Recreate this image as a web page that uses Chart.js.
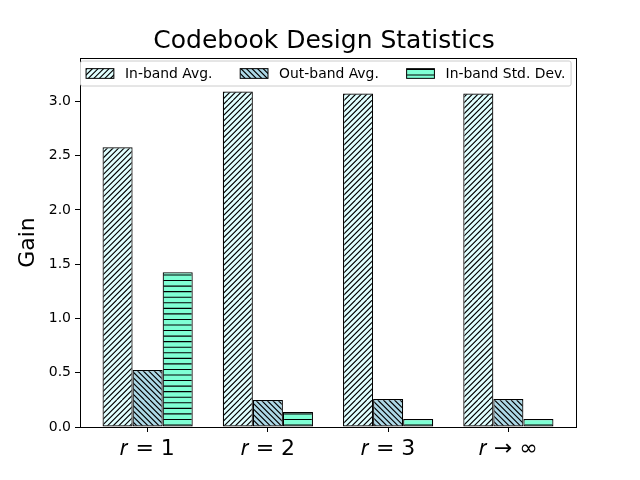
<!DOCTYPE html>
<html>
<head>
<meta charset="utf-8">
<script src="https://cdn.jsdelivr.net/npm/chart.js@4.4.1/dist/chart.umd.min.js"></script>
<style>
  html, body { margin: 0; padding: 0; background: #fff; }
</style>
</head>
<body>
<canvas id="chart" width="640" height="480"></canvas>
<script>
const categories = ['𝑟 = 1', '𝑟 = 2', '𝑟 = 3', '𝑟 → ∞']
const inbandAvg = [2.577, 3.092, 3.073, 3.073]
const outbandAvg = [0.525, 0.248, 0.258, 0.258]
const inbandStd = [1.426, 0.138, 0.074, 0.074]
const seriesNames = ['In-band Avg.', 'Out-band Avg.', 'In-band Std. Dev.']
const yTicks = [0, 0.5, 1, 1.5, 2, 2.5, 3]

const FONT = "'DejaVu Sans', sans-serif"
const canvas = document.getElementById('chart')
const mainCtx = canvas.getContext('2d')

// matplotlib-like hatch fills: '///', '\\\\', '---'
const makeHatch = (bg, kind) => {
    const size = 100, n = 18, step = size / n
    const c = document.createElement('canvas')
    c.width = size
    c.height = size
    const ctx = c.getContext('2d')
    ctx.fillStyle = bg
    ctx.fillRect(0, 0, size, size)
    ctx.strokeStyle = '#000'
    ctx.lineWidth = 1.1
    ctx.beginPath()
    for (let i = -n; i <= 2 * n; i++) {
        const o = i * step
        if (kind === '/') { ctx.moveTo(o, size); ctx.lineTo(o + size, 0) }
        else if (kind === '\\') { ctx.moveTo(o, 0); ctx.lineTo(o + size, size) }
        else if (i >= 0 && i < n) { ctx.moveTo(0, o + step / 2); ctx.lineTo(size, o + step / 2) }
    }
    ctx.stroke()
    return mainCtx.createPattern(c, 'repeat')
}

const colors = ['#e0ffff', '#add8e6', '#7fffd4']
const hatches = ['/', '\\', '-']
const series = [inbandAvg, outbandAvg, inbandStd]

const datasets = series.map((vals, k) => ({
    label: seriesNames[k],
    data: vals.map((y, i) => ({ x: i, y })),
    backgroundColor: makeHatch(colors[k], hatches[k]),
    borderColor: '#000',
    borderWidth: 1.2,
    borderSkipped: false,
    categoryPercentage: 0.75,
    barPercentage: 1
}))

// axes frame + legend box inside the plot (like matplotlib)
const frameAndLegend = {
    id: 'frameAndLegend',
    afterDatasetsDraw(chart) {
        const { ctx, chartArea: a } = chart
        ctx.save()
        ctx.strokeStyle = '#000'
        ctx.lineWidth = 1
        ctx.strokeRect(Math.round(a.left) + 0.5, Math.round(a.top) + 0.5, Math.round(a.right - a.left), Math.round(a.bottom - a.top))
        ctx.restore()
    },
    afterDraw(chart) {
        const { ctx, chartArea: a } = chart
        const fs = 13.9
        const pad = 0.4 * fs, handle = 2 * fs, textPad = 0.8 * fs, colSp = 2 * fs
        ctx.save()
        ctx.font = `${fs}px ${FONT}`
        const widths = chart.data.datasets.map(ds => ctx.measureText(ds.label).width)
        let total = pad * 2
        widths.forEach((w, i) => { total += handle + textPad + w + (i ? colSp : 0) })
        const left = a.left + 0.5, top = a.top + 3, h = 25
        ctx.beginPath()
        ctx.roundRect(left, top, total, h, 2)
        ctx.fillStyle = 'rgba(255,255,255,0.8)'
        ctx.fill()
        ctx.strokeStyle = '#cccccc'
        ctx.lineWidth = 1
        ctx.stroke()
        let x = left + pad
        const midY = top + h / 2
        chart.data.datasets.forEach((ds, i) => {
            ctx.fillStyle = ds.backgroundColor
            ctx.fillRect(x, midY - 4.85, handle, 9.7)
            ctx.strokeStyle = '#000'
            ctx.strokeRect(x, midY - 4.85, handle, 9.7)
            ctx.fillStyle = '#000'
            ctx.textBaseline = 'middle'
            ctx.fillText(ds.label, x + handle + textPad, midY + 1)
            x += handle + textPad + widths[i] + colSp
        })
        ctx.restore()
    }
}

new Chart(canvas, {
    type: 'bar',
    data: { datasets },
    options: {
        responsive: false,
        animation: false,
        layout: { padding: { left: 8, right: 0, top: 0, bottom: 0 } },
        plugins: {
            legend: { display: false },
            tooltip: { enabled: false },
            title: {
                display: true,
                text: 'Codebook Design Statistics',
                color: '#000',
                font: { family: FONT, size: 25, weight: 'normal' },
                padding: { top: 26, bottom: 2 }
            }
        },
        scales: {
            x: {
                type: 'linear',
                min: -0.5625,
                max: 3.5625,
                offset: false,
                afterBuildTicks: s => { s.ticks = categories.map((c, i) => ({ value: i })) },
                afterFit: s => { s.height = 53 },
                grid: { display: true, offset: false, drawOnChartArea: false, color: '#000', tickLength: 5 },
                border: { color: '#000' },
                ticks: {
                    callback: v => categories[v],
                    color: '#000',
                    font: { family: FONT, size: 22 },
                    padding: 4,
                    autoSkip: false,
                    maxRotation: 0
                }
            },
            y: {
                min: 0,
                max: 3.4,
                afterBuildTicks: s => { s.ticks = yTicks.map(v => ({ value: v })) },
                afterFit: s => { s.width = 72 },
                grid: { display: true, drawOnChartArea: false, color: '#000', tickLength: 5 },
                border: { color: '#000' },
                ticks: {
                    callback: v => v.toFixed(1),
                    color: '#000',
                    font: { family: FONT, size: 14 },
                    padding: 4
                },
                title: {
                    display: true,
                    text: 'Gain',
                    color: '#000',
                    font: { family: FONT, size: 22 },
                    padding: { top: 7, bottom: 0 }
                }
            },
            y2: {
                position: 'right',
                display: true,
                afterFit: s => { s.width = 64 },
                grid: { display: false },
                border: { display: false },
                ticks: { display: false }
            }
        }
    },
    plugins: [frameAndLegend]
})
</script>
</body>
</html>
